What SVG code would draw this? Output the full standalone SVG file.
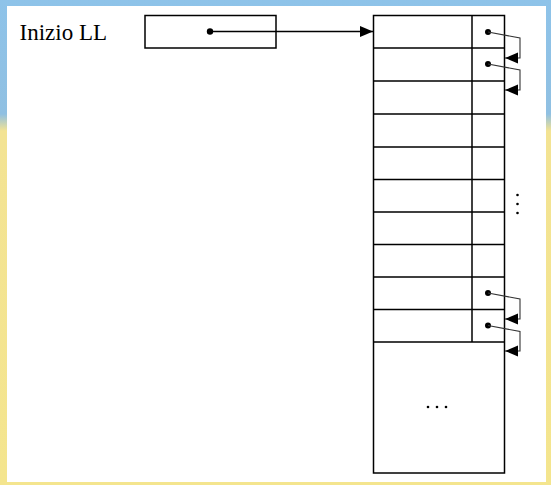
<svg xmlns="http://www.w3.org/2000/svg" width="551" height="485" viewBox="0 0 551 485">
  <defs>
    <linearGradient id="bg" x1="0" y1="0" x2="0" y2="485" gradientUnits="userSpaceOnUse">
      <stop offset="0" stop-color="#8ec3e9"/>
      <stop offset="0.235" stop-color="#90c0e2"/>
      <stop offset="0.27" stop-color="#f3e393"/>
      <stop offset="1" stop-color="#f4e58e"/>
    </linearGradient>
    <marker id="arr" markerWidth="14" markerHeight="12" refX="13" refY="5.5" orient="auto" markerUnits="userSpaceOnUse">
      <path d="M0,0 L13,5.5 L0,11 Z" fill="#000"/>
    </marker>
  </defs>
  <style>
    .box { fill: none; stroke: #000; stroke-width: 1.5; }
    .ln { fill: none; stroke: #000; stroke-width: 1.5; }
    .ptr { fill: none; stroke: #333; stroke-width: 1.1; }
    .dot { fill: #000; }
    .lbl { font-family: "Liberation Serif", "Times New Roman", serif; font-size: 23px; fill: #000; }
  </style>
  <rect x="0" y="0" width="551" height="485" fill="url(#bg)"/>
  <rect x="7" y="6" width="539" height="476" fill="#fff"/>

  <g id="label">
    <text class="lbl" x="19.5" y="40">Inizio LL</text>
  </g>

  <g id="head">
    <rect class="box" x="145" y="15.5" width="131" height="32.5"/>
  </g>

  <g id="array">
    <rect class="box" x="373.5" y="15.5" width="131" height="457.5"/>
    <path class="ln" d="M373.5,48 H504.5 M373.5,81 H504.5 M373.5,114 H504.5 M373.5,147 H504.5 M373.5,179.5 H504.5 M373.5,212 H504.5 M373.5,244.5 H504.5 M373.5,277 H504.5 M373.5,309.5 H504.5 M373.5,342 H504.5"/>
    <path class="ln" d="M472,15.5 V342"/>
    <circle class="dot" cx="517.5" cy="195" r="1.3"/>
    <circle class="dot" cx="517.5" cy="204" r="1.3"/>
    <circle class="dot" cx="517.5" cy="213" r="1.3"/>
    <circle class="dot" cx="428" cy="407" r="1.3"/>
    <circle class="dot" cx="437" cy="407" r="1.3"/>
    <circle class="dot" cx="446" cy="407" r="1.3"/>
  </g>

  <g id="connectors">
    <circle class="dot" cx="210" cy="31.5" r="3.2"/>
    <path class="ln" d="M210,31.5 H373" marker-end="url(#arr)"/>

    <circle class="dot" cx="488" cy="32" r="3"/>
    <path class="ptr" d="M488,32 L520,38 V58 H505" marker-end="url(#arr)"/>
    <circle class="dot" cx="488" cy="64" r="3"/>
    <path class="ptr" d="M488,64 L520,70 V90 H505" marker-end="url(#arr)"/>
    <circle class="dot" cx="488" cy="293" r="3"/>
    <path class="ptr" d="M488,293 L520,299 V319 H505" marker-end="url(#arr)"/>
    <circle class="dot" cx="488" cy="325.5" r="3"/>
    <path class="ptr" d="M488,325.5 L520,331.5 V351 H505" marker-end="url(#arr)"/>
  </g>
</svg>
